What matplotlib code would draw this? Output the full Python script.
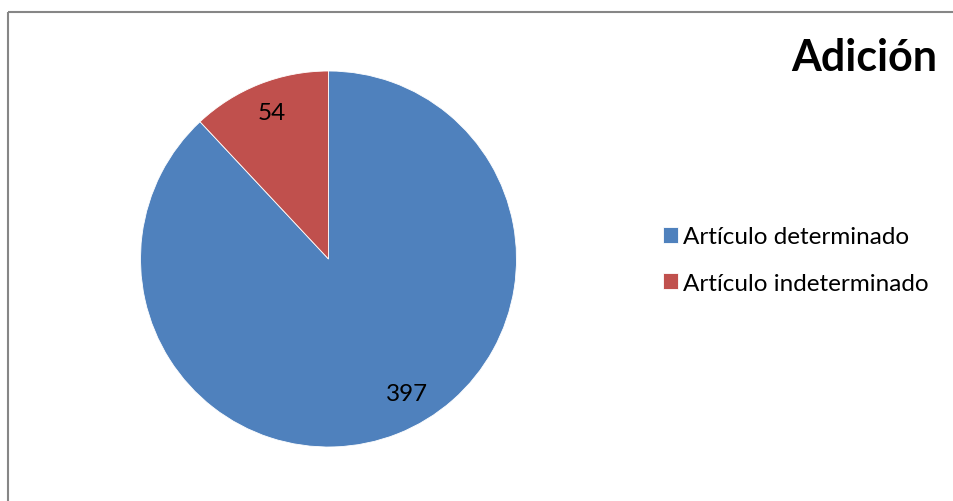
import matplotlib.pyplot as plt
from matplotlib.lines import Line2D

# --- datos ---
categorias = ['Artículo determinado', 'Artículo indeterminado']
valores = [397, 54]
colores = ['#4F81BD', '#C0504D']
titulo = 'Adición'

plt.rcParams['font.family'] = ['Lato', 'DejaVu Sans']

W, H = 954, 502
fig = plt.figure(figsize=(W / 100, H / 100), dpi=100)

# marco del gráfico (solo se ven borde superior e izquierdo)
y_top = 1 - 12.5 / H
x_left = 8.5 / W
fig.add_artist(Line2D([x_left, 1.2], [y_top, y_top], transform=fig.transFigure,
                      color='#868686', linewidth=1.5, solid_capstyle='butt'))
fig.add_artist(Line2D([x_left, x_left], [-0.2, y_top], transform=fig.transFigure,
                      color='#868686', linewidth=1.5, solid_capstyle='butt'))

# pie: centro (328.5, 260) px, radio 188 px
cx, cy, r = 328.5, 260, 188
ax = fig.add_axes([(cx - r) / W, (H - cy - r) / H, 2 * r / W, 2 * r / H])
wedges, _, autotexts = ax.pie(valores, colors=colores, startangle=90, counterclock=False,
                              autopct=lambda p: f'{p * sum(valores) / 100:.0f}',
                              pctdistance=0.84,
                              wedgeprops=dict(edgecolor='white', linewidth=0.6),
                              textprops=dict(fontsize=17.5, color='black'))
ax.set_xlim(-1, 1)
ax.set_ylim(-1, 1)
ax.set_aspect('auto')
ax.axis('off')

# posiciones como en Excel
autotexts[0].set_position((0.418, -0.713))
autotexts[1].set_position((-0.30, 0.78))

fig.text(864 / W, 1 - 58 / H, titulo, fontsize=31, fontweight='bold',
         ha='center', va='center')

fig.legend(wedges, categorias, loc='center left',
           bbox_to_anchor=(641 / W, 1 - 261 / H), frameon=False,
           fontsize=17.5, handlelength=0.62, handleheight=0.62,
           handletextpad=0.2, labelspacing=1.05)

fig.savefig('out.png', dpi=100)
